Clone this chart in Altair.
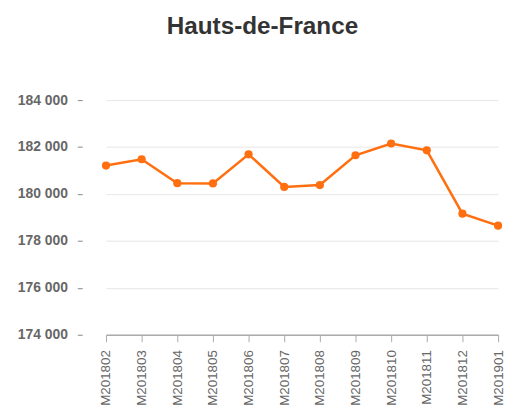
import altair as alt
import pandas as pd

months = ["M201802", "M201803", "M201804", "M201805", "M201806", "M201807",
          "M201808", "M201809", "M201810", "M201811", "M201812", "M201901"]
values = [181210, 181480, 180460, 180450, 181690, 180300,
          180380, 181650, 182150, 181860, 179160, 178650]
y_ticks = [174000, 176000, 178000, 180000, 182000, 184000]

df = pd.DataFrame({"mois": months, "valeur": values})

color = "#ff6f0f"

base = alt.Chart(df).encode(
    x=alt.X("mois:N", sort=months, title=None,
            scale=alt.Scale(type="point", range=[21, 417], padding=0),
            axis=alt.Axis(labelAngle=-90, labelFontSize=13.5, labelColor="#666666",
                          labelFont="Liberation Sans", labelPadding=8,
                          tickSize=7, tickColor="#aaaaaa", domainColor="#aaaaaa",
                          labelAlign="right", labelBaseline="middle",
                          domainWidth=1.5, grid=False)),
    y=alt.Y("valeur:Q", title=None,
            scale=alt.Scale(domain=[174000, 184000], nice=False, zero=False),
            axis=alt.Axis(values=y_ticks,
                          labelExpr="replace(format(datum.value, ',d'), ',', ' ')",
                          labelFontSize=14, labelFontWeight="bold", labelColor="#666666",
                          labelFont="Liberation Sans", labelPadding=10,
                          tickSize=5, tickColor="#888888", offset=3,
                          domain=False, grid=True, gridColor="#e6e6e6")),
)

line = base.mark_line(color=color, strokeWidth=2.5)
points = base.mark_circle(color=color, size=68, opacity=1)

chart = (line + points).properties(
    width=424, height=237,
    padding={"left": 78, "top": 91, "right": 0, "bottom": 77},
    autosize="none",
    title=alt.TitleParams("Hauts-de-France", fontSize=24.5, fontWeight="bold",
                          color="#333333", font="Liberation Sans",
                          anchor="middle", offset=54, dx=-33),
).configure_view(stroke=None)

chart.save("out.html", embed_options={"renderer": "svg", "actions": False})
